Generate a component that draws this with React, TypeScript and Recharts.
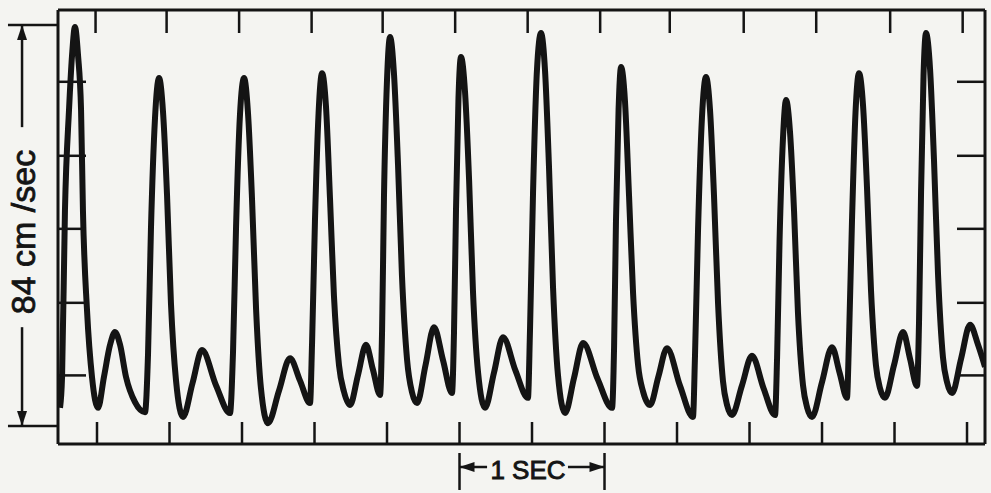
import React from 'react';
import { LineChart, Line, XAxis, YAxis, ReferenceLine, ReferenceDot } from 'recharts';

// flow velocity trace: time in seconds, velocity in cm/sec
const timeSec = [
  -0.255,
  -0.241, -0.221, -0.193, -0.172, -0.152, -0.131, -0.110, -0.097, -0.069, -0.034, 0.007,
  0.048, 0.090, 0.124, 0.159, 0.200, 0.262, 0.331,
  0.352, 0.372, 0.400, 0.428, 0.455, 0.483, 0.510, 0.545, 0.593,
  0.659, 0.724, 0.821, 0.917,
  0.938, 0.959, 0.986, 1.014, 1.041, 1.069, 1.097, 1.131, 1.179,
  1.255, 1.331, 1.400, 1.469,
  1.483, 1.503, 1.528, 1.552, 1.579, 1.607, 1.634, 1.669, 1.703, 1.745,
  1.800, 1.855, 1.903, 1.952,
  1.966, 1.979, 2.000, 2.021, 2.048, 2.076, 2.103, 2.138, 2.172, 2.207,
  2.266, 2.324, 2.386, 2.448,
  2.462, 2.476, 2.493, 2.510, 2.538, 2.566, 2.593, 2.628, 2.676,
  2.738, 2.800, 2.886, 2.972,
  2.986, 3.007, 3.034, 3.062, 3.090, 3.117, 3.145, 3.179, 3.228,
  3.290, 3.352, 3.452, 3.552,
  3.566, 3.579, 3.597, 3.614, 3.641, 3.669, 3.697, 3.731, 3.766, 3.814,
  3.872, 3.931, 4.021, 4.110,
  4.124, 4.145, 4.172, 4.200, 4.228, 4.255, 4.283, 4.317, 4.345, 4.379,
  4.448, 4.517, 4.597, 4.676,
  4.690, 4.707, 4.731, 4.752, 4.779, 4.807, 4.834, 4.869, 4.897, 4.931,
  5.000, 5.069, 5.121, 5.172,
  5.186, 5.207, 5.231, 5.255, 5.283, 5.310, 5.338, 5.372, 5.400, 5.434,
  5.497, 5.559, 5.607, 5.655,
  5.669, 5.683, 5.700, 5.717, 5.745, 5.772, 5.800, 5.834, 5.862, 5.897,
  5.959, 6.021, 6.076, 6.124,
];

const velocityCmS = [
  3.8,
  10.3, 45.2, 66.2, 77.7, 83.6, 77.7, 66.2, 45.2, 24.3, 10.1, 3.8,
  10.3, 17.0, 19.7, 17.0, 10.3, 5.0, 2.9,
  15.2, 41.2, 64.5, 72.9, 65.9, 48.3, 25.7, 9.5, 1.9,
  9.0, 15.9, 8.5, 2.7,
  15.5, 41.8, 65.2, 72.9, 65.7, 47.6, 24.5, 7.8, 0.6,
  7.4, 14.2, 9.5, 4.8,
  17.2, 42.8, 65.5, 73.9, 67.0, 47.5, 27.3, 12.7, 7.2, 4.4,
  10.7, 17.0, 11.8, 6.5,
  20.0, 47.8, 72.5, 81.5, 73.8, 54.7, 31.6, 14.0, 7.1, 4.8,
  12.8, 20.7, 13.8, 6.9,
  19.6, 45.6, 68.8, 77.3, 70.0, 51.6, 28.1, 11.2, 3.8,
  11.2, 18.6, 11.6, 5.9,
  19.9, 48.8, 74.5, 82.3, 74.3, 54.4, 29.0, 10.7, 2.7,
  10.1, 17.4, 9.9, 3.8,
  16.6, 42.9, 66.3, 75.2, 68.1, 48.3, 27.8, 12.9, 7.2, 4.4,
  10.4, 16.3, 8.4, 1.9,
  14.7, 41.1, 64.6, 73.1, 66.0, 48.3, 25.7, 9.4, 4.4, 2.3,
  8.5, 14.7, 7.9, 2.3,
  14.2, 38.6, 60.4, 68.3, 61.7, 45.1, 23.8, 8.5, 3.9, 1.9,
  9.2, 16.5, 11.2, 5.9,
  18.1, 43.3, 65.7, 73.9, 67.1, 50.1, 28.3, 12.7, 7.9, 5.9,
  12.8, 19.7, 14.1, 8.4,
  21.7, 49.0, 73.4, 82.3, 74.8, 55.9, 31.8, 14.4, 9.2, 6.9,
  14.1, 21.2, 17.0, 12.4,
];

const bottomTicks = [0, 0.5, 1, 1.5, 2, 2.5, 3, 3.5, 4, 4.5, 5, 5.5, 6];
const topTicks = [-0.01, 0.48, 0.98, 1.48, 1.97, 2.47, 2.97, 3.47, 3.95, 4.46, 4.96, 5.47, 5.97];
const velocityTicks = [10.6, 25.8, 41.3, 56.6, 72.1];

// calibration marks: 84 cm/sec span and a 1 second span
const velocitySpan = [0, 84];
const secondSpan = [2.5, 3.5];

const W = 991;
const H = 493;
const INK = '#141414';
const X_DOMAIN = [-0.269, 6.124];
const Y_DOMAIN = [-3.77, 87.14];
const FONT = "'Liberation Sans', Arial, sans-serif";

const data = timeSec.map((t, i) => ({ t, v: velocityCmS[i] }));

const arrow = (dir) => (props) => {
  const { cx, cy } = props;
  const len = 15;
  const half = 5;
  let pts = '';
  if (dir === 'up') pts = `${cx},${cy} ${cx - half},${cy + len} ${cx + half},${cy + len}`;
  if (dir === 'down') pts = `${cx},${cy} ${cx - half},${cy - len} ${cx + half},${cy - len}`;
  if (dir === 'left') pts = `${cx},${cy} ${cx + len},${cy - half} ${cx + len},${cy + half}`;
  if (dir === 'right') pts = `${cx},${cy} ${cx - len},${cy - half} ${cx - len},${cy + half}`;
  return <polygon points={pts} fill={INK} />;
};

const axisLine = { stroke: INK, strokeWidth: 3 };
const tickLine = { stroke: INK, strokeWidth: 2.5 };
const blank = () => '';

export default function App() {
  const barX = -0.517;
  const endL = -0.614;
  const endR = -0.269;
  const secY = -8.59;
  const ref = { xAxisId: 'bottom', yAxisId: 'left', ifOverflow: 'visible' as const };
  const line = { stroke: INK, strokeWidth: 2.5 };

  return (
    <div style={{ position: 'absolute', left: 0, top: 0, width: W, height: H, background: '#f4f4f1' }}>
      <LineChart width={W} height={H} data={data} margin={{ top: 10, right: 6, bottom: 49, left: 58 }}>
        <XAxis xAxisId="bottom" type="number" dataKey="t" domain={X_DOMAIN} ticks={bottomTicks} interval={0}
          orientation="bottom" mirror tickSize={22} tickFormatter={blank} axisLine={axisLine} tickLine={tickLine} allowDataOverflow />
        <XAxis xAxisId="top" type="number" dataKey="t" domain={X_DOMAIN} ticks={topTicks} interval={0}
          orientation="top" mirror tickSize={23} tickFormatter={blank} axisLine={axisLine} tickLine={tickLine} allowDataOverflow />
        <YAxis yAxisId="left" type="number" domain={Y_DOMAIN} ticks={velocityTicks} interval={0}
          orientation="left" mirror tickSize={28} tickFormatter={blank} axisLine={axisLine} tickLine={tickLine} allowDataOverflow />
        <YAxis yAxisId="right" type="number" domain={Y_DOMAIN} ticks={velocityTicks} interval={0}
          orientation="right" mirror tickSize={28} tickFormatter={blank} axisLine={axisLine} tickLine={tickLine} allowDataOverflow />

        <Line xAxisId="bottom" yAxisId="left" dataKey="v" type="monotone" stroke={INK} strokeWidth={6}
          strokeLinejoin="round" dot={false} activeDot={false} isAnimationActive={false} />

        {/* 84 cm/sec calibration bar */}
        <ReferenceLine {...ref} {...line} segment={[{ x: endL, y: velocitySpan[0] }, { x: endR, y: velocitySpan[0] }]} />
        <ReferenceLine {...ref} {...line} segment={[{ x: endL, y: velocitySpan[1] }, { x: endR, y: velocitySpan[1] }]} />
        <ReferenceLine {...ref} {...line} segment={[{ x: barX, y: velocitySpan[1] }, { x: barX, y: 62.6 }]} />
        <ReferenceLine {...ref} {...line} segment={[{ x: barX, y: 20.7 }, { x: barX, y: velocitySpan[0] }]} />
        <ReferenceDot {...ref} x={barX} y={velocitySpan[1]} shape={arrow('up')} />
        <ReferenceDot {...ref} x={barX} y={velocitySpan[0]} shape={arrow('down')} />

        {/* 1 second calibration bar */}
        <ReferenceLine {...ref} {...line} segment={[{ x: secondSpan[0], y: -5.66 }, { x: secondSpan[0], y: -13.4 }]} />
        <ReferenceLine {...ref} {...line} segment={[{ x: secondSpan[1], y: -5.66 }, { x: secondSpan[1], y: -13.4 }]} />
        <ReferenceLine {...ref} {...line} segment={[{ x: secondSpan[0], y: secY }, { x: 2.69, y: secY }]} />
        <ReferenceLine {...ref} {...line} segment={[{ x: 3.248, y: secY }, { x: secondSpan[1], y: secY }]} />
        <ReferenceDot {...ref} x={secondSpan[0]} y={secY} shape={arrow('left')} />
        <ReferenceDot {...ref} x={secondSpan[1]} y={secY} shape={arrow('right')} />
      </LineChart>

      <svg width={W} height={H} style={{ position: 'absolute', left: 0, top: 0, pointerEvents: 'none' }}>
        <text x={35} y={232} transform="rotate(-90 35 232)" textAnchor="middle" fontSize={34}
          fontFamily={FONT} fill={INK} stroke={INK} strokeWidth={0.8}>
          84 cm /sec
        </text>
        <text x={528} y={479} textAnchor="middle" fontSize={26}
          fontFamily={FONT} fill={INK} stroke={INK} strokeWidth={0.9}>
          1 SEC
        </text>
      </svg>
    </div>
  );
}
